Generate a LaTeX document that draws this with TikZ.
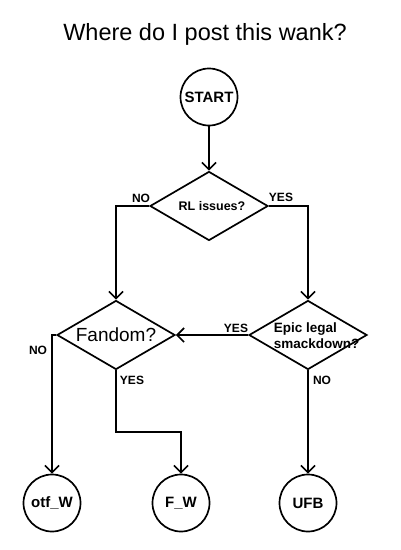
\documentclass[tikz,border=0pt]{standalone}
\usepackage{fontspec}
\setmainfont{Liberation Sans}
\usetikzlibrary{arrows.meta, shapes.geometric}

\begin{document}
\begin{tikzpicture}[x=1pt, y=-1pt, line width=1.7pt,
  >={Straight Barb[length=7pt, width=14pt]},
  terminal/.style={draw, circle, minimum size=57pt, inner sep=0pt, font=\fontsize{15}{17}\selectfont\bfseries},
  decision/.style={draw, diamond, minimum width=118pt, minimum height=69pt, inner sep=0pt},
  answer/.style={font=\fontsize{12}{13}\selectfont\bfseries, inner sep=0pt}]

\useasboundingbox (0,0) rectangle (400,550);

% Title
\node[font=\fontsize{23.5}{27}\selectfont] (title) at (205,34) {Where do I post this wank?};

% =========== Nodes ===========
\node[terminal] (start) at (209,97) {START};

\node[decision] (rl) at (209,206) {};
\node[font=\fontsize{12.5}{14}\selectfont\bfseries] (rltext) at (212,206) {RL issues?};

\node[decision] (fandom) at (116,335) {};
\node[font=\fontsize{19}{21}\selectfont] (fandomtext) at (116,335) {Fandom?};

\node[decision] (epic) at (308,335) {};
\node[font=\fontsize{13.5}{16}\selectfont\bfseries, align=left, anchor=west, inner sep=0pt]
  (epictext) at (273,336) {Epic legal\\smackdown?};

\node[terminal] (otf) at (52,503) {otf\_W};
\node[terminal] (fw) at (181,503) {F\_W};
\node[terminal] (ufb) at (308,503) {UFB};

% =========== Connectors ===========
\draw[->] (start) -- (rl.north);
\draw[->] (rl.west) -| (fandom.north);
\draw[->] (rl.east) -| (epic.north);
\draw[->] (epic.west) -- (fandom.east);
\draw[->] (fandom.west) -| (otf.north);
\coordinate (fyes) at (116,432);
\draw[->] (fandom.south) -- (fyes) -| (fw.north);
\draw[->] (epic.south) -- (ufb.north);

% Answer labels
\node[answer] (rlno) at (141,198) {NO};
\node[answer] (rlyes) at (281,197) {YES};
\node[answer] (epicyes) at (236,328) {YES};
\node[answer] (fandomno) at (38,350) {NO};
\node[answer] (fandomyes) at (132,380) {YES};
\node[answer] (epicno) at (322,380) {NO};

\end{tikzpicture}
\end{document}
